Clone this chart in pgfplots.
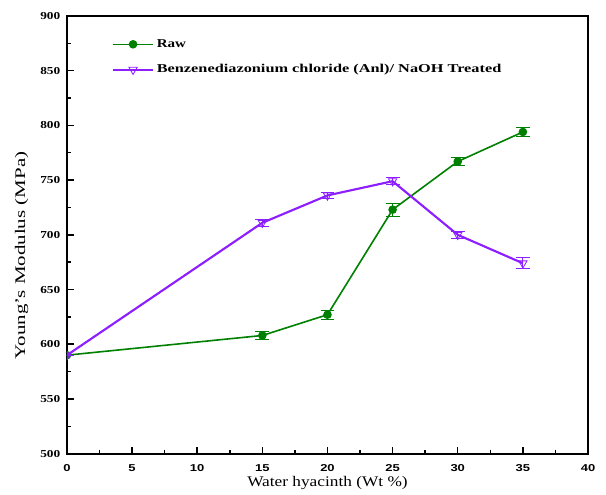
\documentclass[border=0pt]{standalone}
\usepackage{fontspec}
\setmainfont{Liberation Serif}
\newfontfamily\tickfont{Liberation Sans}
\usepackage{graphicx}
\usepackage{pgfplots}
\pgfplotsset{compat=1.18}

\definecolor{rawgreen}{RGB}{0,128,0}
\definecolor{trtpurple}{RGB}{140,30,255}

\newcommand{\wide}[2]{\scalebox{#1}[1]{#2}}

\begin{document}
\begin{tikzpicture}
\begin{axis}[
  scale only axis,
  width=391.1pt, height=328.5pt,
  xmin=0, xmax=40, ymin=500, ymax=900,
  xtick={0,5,...,40}, ytick={500,550,...,900},
  minor x tick num=1, minor y tick num=1,
  tick align=inside,
  major tick length=5pt, minor tick length=3pt,
  xtick pos=bottom, ytick pos=left,
  axis line style={line width=1.5pt},
  tick style={line width=1.1pt, black},
  /pgf/number format/assume math mode=true,
  xticklabel={\wide{1.3}{\tickfont\bfseries\fontsize{7.5}{8}\selectfont\pgfmathprintnumber{\tick}}},
  yticklabel={\wide{1.25}{\bfseries\fontsize{8}{9}\selectfont\pgfmathprintnumber{\tick}}},
  xticklabel style={yshift=-5pt},
  yticklabel style={xshift=-1.5pt},
  xlabel={\wide{1.18}{\fontsize{11}{12}\selectfont Water hyacinth (Wt \%)}},
  ylabel={\wide{1.43}{\fontsize{11}{12}\selectfont Young's Modulus (MPa)}},
  xlabel style={at={(axis description cs:0.5,-0.066)}, anchor=center},
  ylabel style={at={(axis description cs:-0.087,0.453)}, anchor=center},
  legend style={draw=none, fill=none, inner sep=0pt,
    at={(axis description cs:0.086,0.906)}, anchor=west,
    font=\bfseries\fontsize{9}{10}\selectfont, row sep=7.5pt},
  legend cell align=left,
  legend image code/.code={
    \draw[#1] (0pt,0pt) -- (30pt,0pt);
    \draw[#1, mark repeat=2, mark phase=2] plot coordinates {(0pt,0pt) (15pt,0pt) (30pt,0pt)};
  },
  clip marker paths=true,
]
\addplot[rawgreen, line width=1.2pt, mark=*, mark size=2.6pt,
  error bars/.cd, y dir=both, y explicit,
  error mark options={rotate=90, mark size=5.2pt, rawgreen, line width=0.8pt},
  error bar style={rawgreen, line width=0.8pt}]
  coordinates {
  (0,590) +- (0,0)
  (15,608) +- (0,4)
  (20,627) +- (0,4)
  (25,723) +- (0,6)
  (30,767) +- (0,4)
  (35,794) +- (0,4)
};
\addplot[trtpurple, line width=1.6pt, mark=triangle, mark size=3.6pt,
  mark options={rotate=180, line width=0.6pt, fill=white},
  error bars/.cd, y dir=both, y explicit,
  error mark options={rotate=90, mark size=5.2pt, trtpurple, line width=0.8pt},
  error bar style={trtpurple, line width=0.8pt}]
  coordinates {
  (0,590) +- (0,0)
  (15,711) +- (0,3)
  (20,736) +- (0,3)
  (25,749) +- (0,3)
  (30,700) +- (0,3)
  (35,674) +- (0,5)
};
\legend{\wide{1.25}{Raw}, \wide{1.36}{Benzenediazonium chloride (Anl)/ NaOH Treated}}
\coordinate (sw) at (rel axis cs:0,0);
\coordinate (ne) at (rel axis cs:1,1);
\end{axis}
\pgfresetboundingbox
\useasboundingbox ([shift={(-50.25pt,-30.75pt)}]sw)
  rectangle ([shift={(13.5pt,12pt)}]ne);
\end{tikzpicture}
\end{document}
